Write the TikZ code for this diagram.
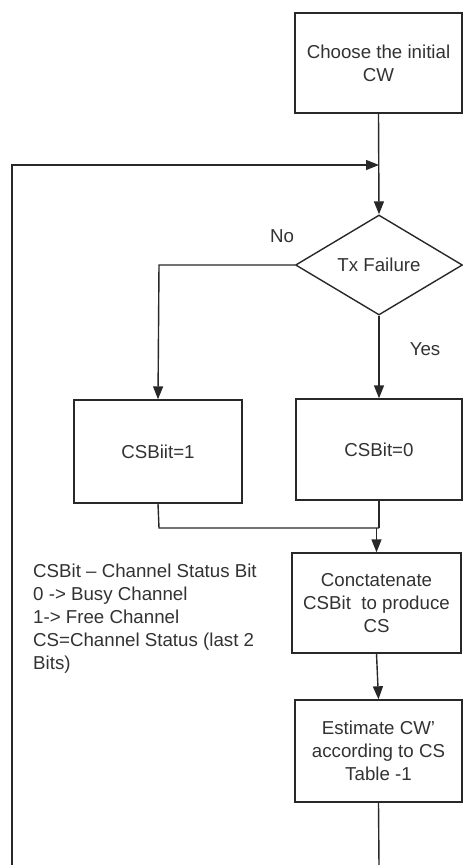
\documentclass[tikz,border=0pt]{standalone}
\usepackage{fontspec}
\setmainfont{Liberation Sans}
\usetikzlibrary{shapes.geometric,arrows.meta}
\definecolor{ln}{RGB}{40,40,40}
\definecolor{tx}{RGB}{50,50,50}
\begin{document}
\begin{tikzpicture}[x=1pt,y=-1pt,
  font=\fontsize{18.7}{23}\selectfont,
  every node/.style={text=tx},
  boxnode/.style={draw=ln,line width=1.4pt,rectangle,inner sep=0pt,align=center},
  decnode/.style={draw=ln,line width=1.4pt,diamond,inner sep=0pt,minimum width=167pt,minimum height=100pt},
  conn/.style={draw=ln,line width=1.4pt},
  arr/.style={conn,-{Triangle[length=13pt,width=10pt]}}]
\useasboundingbox (0,0) rectangle (463,865);
\node[boxnode,minimum width=167pt,minimum height=100pt] (init) at (378.5,63) {Choose the initial\\CW};
\node[decnode] (dec) at (379,265) {Tx Failure};
\node[boxnode,minimum width=168pt,minimum height=103pt] (csb1) at (158,451.5) {CSBiit=1};
\node[boxnode,minimum width=166pt,minimum height=101pt] (csb0) at (379,449.5) {CSBit=0};
\node[boxnode,minimum width=169pt,minimum height=100pt] (concat) at (376.5,603) {Conctatenate\\CSBit\ \ to produce\\CS};
\node[boxnode,minimum width=167pt,minimum height=102pt] (est) at (378.5,751) {Estimate CW\char"0027\\according to CS\\Table -1};
\node (no) at (282,236) {No};
\node (yes) at (425,349) {Yes};
\node[anchor=north west,align=left,inner sep=0pt] (note) at (33,564) {CSBit – Channel Status Bit\\0 -> Busy Channel\\1-> Free Channel\\CS=Channel Status (last 2\\Bits)};
\coordinate (join) at (379,165);
\coordinate (tl) at (12,165);
\coordinate (bl) at (12,866);
\coordinate (br) at (379,866);
\coordinate (nocorner) at (159,265);
\coordinate (m1) at (159,528);
\coordinate (m0) at (379,528);
\coordinate (mm) at (376.5,528);
\draw[arr] (init.south) -- (dec.north);
\draw[arr] (bl) -- (tl) -- (join);
\draw[conn] (est.south) -- (br);
\draw[arr] (dec.west) -- (nocorner) -- (csb1.north);
\draw[arr] (dec.south) -- (csb0.north);
\draw[conn] (csb1.south) -- (m1) -- (m0);
\draw[conn] (csb0.south) -- (m0);
\draw[arr] (mm) -- (concat.north);
\draw[arr] (concat.south) -- (est.north);
\end{tikzpicture}
\end{document}
